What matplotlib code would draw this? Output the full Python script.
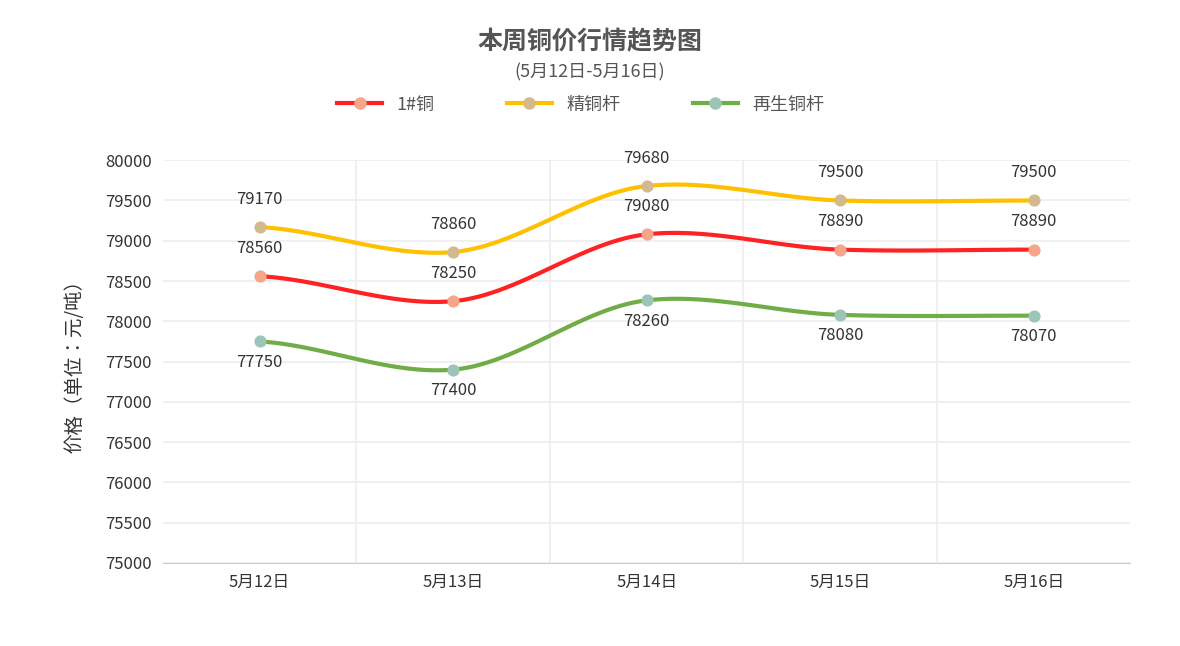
import numpy as np
import matplotlib
matplotlib.use("Agg")
import matplotlib.pyplot as plt

plt.rcParams["font.family"] = ["Noto Sans CJK JP", "Noto Sans CJK SC", "DejaVu Sans"]

categories = ["5月12日", "5月13日", "5月14日", "5月15日", "5月16日"]
copper1 = [78560, 78250, 79080, 78890, 78890]
rod = [79170, 78860, 79680, 79500, 79500]
recycled = [77750, 77400, 78260, 78080, 78070]
yticks = list(range(75000, 80001, 500))

def smooth(x, y, n=30):
    x = np.asarray(x, float); y = np.asarray(y, float)
    px = np.concatenate([[2*x[0]-x[1]], x, [2*x[-1]-x[-2]]])
    py = np.concatenate([[y[0]], y, [y[-1]]])
    xs, ys = [], []
    for i in range(1, len(px)-2):
        t = np.linspace(0, 1, n)
        p0, p1, p2, p3 = py[i-1], py[i], py[i+1], py[i+2]
        m1 = (p2 - p0) / 2 * 0.8; m2 = (p3 - p1) / 2 * 0.8
        h00 = 2*t**3-3*t**2+1; h10 = t**3-2*t**2+t; h01 = -2*t**3+3*t**2; h11 = t**3-t**2
        ys.append(h00*p1 + h10*m1 + h01*p2 + h11*m2)
        xs.append(px[i] + t*(px[i+1]-px[i]))
    return np.concatenate(xs), np.concatenate(ys)

fig = plt.figure(figsize=(11.8, 6.46), dpi=100)
ax = fig.add_axes([0.138, 0.1285, 0.82, 0.6235])
x = np.arange(len(categories))
series = [("1#铜", copper1, "#ff2222", "#f4a58a", 1),
          ("精铜杆", rod, "#ffc000", "#d2b98e", 1),
          ("再生铜杆", recycled, "#70ad47", "#9cc5b8", -1)]
handles = []
for name, vals, lc, mc, pos in series:
    sx, sy = smooth(x, vals)
    ax.plot(sx, sy, color=lc, lw=3, zorder=2)
    ax.scatter(x, vals, s=60, color=mc, zorder=3)
    h, = ax.plot([], [], color=lc, lw=3, marker="o", ms=8, mfc=mc, mec=mc, label=name)
    handles.append(h)
    off = 20 if pos > 0 else -15
    for xi, v in zip(x, vals):
        ax.annotate(str(v), (xi, v), xytext=(0, off), textcoords="offset points",
                    ha="center", va="center", fontsize=12, color="#333333")

ax.set_xlim(-0.5, 4.5)
ax.set_ylim(75000, 80000)
ax.set_yticks(yticks)
ax.set_xticks(x)
ax.set_xticklabels(categories)
ax.set_xticks(np.arange(0.5, 4.5, 1), minor=True)
ax.grid(True, which="minor", axis="x", color="#eeeeee", lw=1.2)
ax.grid(True, which="major", axis="y", color="#eeeeee", lw=1.2)
ax.set_axisbelow(True)
for s in ["top", "right", "left"]:
    ax.spines[s].set_visible(False)
ax.spines["bottom"].set_color("#cccccc")
ax.tick_params(axis="both", which="both", length=0, labelsize=12, colors="#333333", pad=8)
ax.set_ylabel("价格（单位：元/吨）", fontsize=14, color="#333333", labelpad=14)

fig.text(0.5, 0.935, "本周铜价行情趋势图", ha="center", va="center", fontsize=18, weight="bold", color="#555555")
fig.text(0.5, 0.888, "(5月12日-5月16日)", ha="center", va="center", fontsize=13, color="#555555")
fig.legend(handles=handles, loc="center", bbox_to_anchor=(0.492, 0.838), ncol=3, frameon=False,
           fontsize=13, handlelength=2.5, columnspacing=4, labelcolor="#555555")
fig.savefig("out.png", dpi=100)
